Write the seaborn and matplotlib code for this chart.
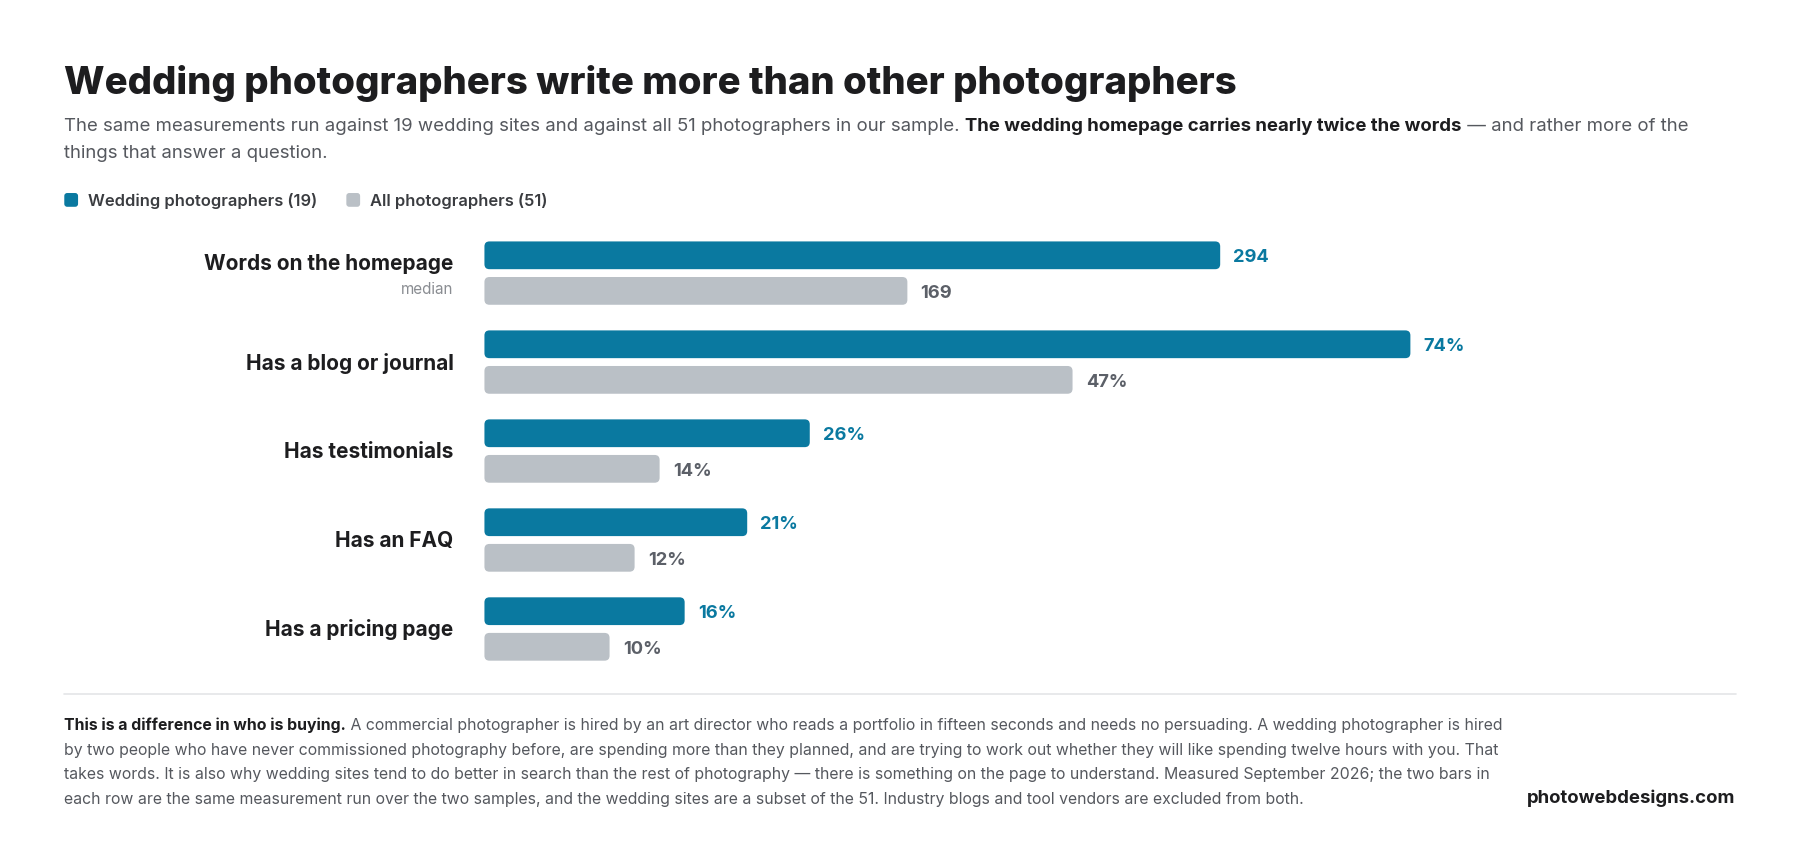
import matplotlib
matplotlib.use("Agg")
import matplotlib.pyplot as plt
from matplotlib.patches import FancyBboxPatch
from matplotlib.lines import Line2D
import seaborn as sns
import pandas as pd

# ---------------- data ----------------
metrics = ["Words on the homepage", "Has a blog or journal", "Has testimonials",
           "Has an FAQ", "Has a pricing page"]
metric_notes = ["median", "", "", "", ""]
wedding_values = [294, 74, 26, 21, 16]
all_values = [169, 47, 14, 12, 10]
value_suffix = ["", "%", "%", "%", "%"]
scale_max = [500, 100, 100, 100, 100]
groups = ["Wedding photographers (19)", "All photographers (51)"]

title = "Wedding photographers write more than other photographers"
subtitle_runs = [
    ("The same measurements run against 19 wedding sites and against all 51 photographers in our sample. ", "normal", "sub"),
    ("The wedding homepage carries nearly twice the words", "bold", "dark"),
    (" \u2014 and rather more of the", "normal", "sub"),
]
subtitle_line2 = "things that answer a question."
footer_lead = "This is a difference in who is buying."
footer_lines = [
    " A commercial photographer is hired by an art director who reads a portfolio in fifteen seconds and needs no persuading. A wedding photographer is hired",
    "by two people who have never commissioned photography before, are spending more than they planned, and are trying to work out whether they will like spending twelve hours with you. That",
    "takes words. It is also why wedding sites tend to do better in search than the rest of photography \u2014 there is something on the page to understand. Measured September 2026; the two bars in",
    "each row are the same measurement run over the two samples, and the wedding sites are a subset of the 51. Industry blogs and tool vendors are excluded from both.",
]
brand = "photowebdesigns.com"

# ---------------- style ----------------
TEAL = "#0a79a0"
GRAY = "#bac0c6"
DARK = "#1d1d1f"
SUB = "#55585e"
VAL_GRAY = "#5c6068"
NOTE = "#8a8d92"
FONT = ["Inter", "DejaVu Sans"]

sns.set_theme(style="white")
plt.rcParams["font.family"] = FONT

W, H = 1568.0, 743.0  # layout reference frame
def fx(x): return x / W
def fy(y): return 1 - y / H

fig = plt.figure(figsize=(18, 8.53), dpi=100)
fig.patch.set_facecolor("white")

# ---------------- bars ----------------
rows = []
for m, wv, av, mx in zip(metrics, wedding_values, all_values, scale_max):
    rows.append({"metric": m, "group": groups[0], "share": wv / mx})
    rows.append({"metric": m, "group": groups[1], "share": av / mx})
df = pd.DataFrame(rows)

ax = fig.add_axes([fx(422), fy(587.5), fx(1512) - fx(422), fy(200) - fy(587.5)])
sns.barplot(data=df, y="metric", x="share", hue="group", order=metrics, hue_order=groups,
            palette=[TEAL, GRAY], orient="h", width=0.8, gap=0.22, legend=False, ax=ax,
            saturation=1, edgecolor="none", linewidth=0)
ax.set_xlim(0, 1)
ax.set_ylim(len(metrics) - 0.5, -0.5)
ax.axis("off")

# rounded corners
fig.canvas.draw()
p0 = ax.transData.transform((0, 0)); p1 = ax.transData.transform((1, 1))
px_per_x = abs(p1[0] - p0[0]); px_per_y = abs(p1[1] - p0[1])
radius_px = 5.0
rx = radius_px / px_per_x
aspect = (radius_px / px_per_y) / rx
old = list(ax.patches)
for p in old:
    x, y, w, h = p.get_x(), p.get_y(), p.get_width(), p.get_height()
    fc = p.get_facecolor()
    p.remove()
    ax.add_patch(FancyBboxPatch((x, y), w, h,
                                boxstyle=f"round,pad=0,rounding_size={rx}",
                                mutation_aspect=aspect, facecolor=fc, edgecolor="none"))

# value labels
bar_h = 0.8 / 2
for i in range(len(metrics)):
    for j, (vals, col) in enumerate([(wedding_values, TEAL), (all_values, VAL_GRAY)]):
        v = vals[i]
        yc = i + (j - 0.5) * bar_h
        ax.annotate(f"{v}{value_suffix[i]}", xy=(v / scale_max[i], yc), xytext=(9.5, -1),
                    textcoords="offset points", va="center", ha="left",
                    fontsize=13.2, fontweight="bold", color=col)

# category labels
lab_tr = matplotlib.transforms.blended_transform_factory(fig.transFigure, ax.transData)
for i, (m, note) in enumerate(zip(metrics, metric_notes)):
    if note:
        ax.annotate(m, xy=(fx(395), i), xycoords=lab_tr, xytext=(0, 7.5),
                    textcoords="offset points", ha="right", va="center",
                    fontsize=15, fontweight="bold", color=DARK)
        ax.annotate(note, xy=(fx(395), i), xycoords=lab_tr, xytext=(0, -11),
                    textcoords="offset points", ha="right", va="center",
                    fontsize=11, color=NOTE)
    else:
        ax.annotate(m, xy=(fx(395), i), xycoords=lab_tr, ha="right", va="center",
                    fontsize=15, fontweight="bold", color=DARK)

# ---------------- texts ----------------
renderer = fig.canvas.get_renderer()
fig_w_px = fig.bbox.width

def runs(x, y, items, size, va="baseline"):
    cur = x
    for text, weight, col in items:
        c = {"sub": SUB, "dark": DARK}.get(col, col)
        t = fig.text(cur, y, text, fontsize=size, fontweight=weight, color=c, va=va, ha="left")
        bb = t.get_window_extent(renderer=renderer)
        cur += bb.width / fig_w_px
    return cur

fig.text(fx(56), fy(82), title, fontsize=27.6, fontweight="heavy", color=DARK, va="baseline")
runs(fx(56), fy(114), subtitle_runs, 13.4)
fig.text(fx(56), fy(138), subtitle_line2, fontsize=13.4, color=SUB, va="baseline")

# legend
ly = fy(175)
sq_w = 12 / W; sq_h = 12 / H
lx = fx(56)
for g, col in zip(groups, [TEAL, GRAY]):
    fig.add_artist(FancyBboxPatch((lx, ly - sq_h / 2), sq_w, sq_h, transform=fig.transFigure,
                                  boxstyle=f"round,pad=0,rounding_size={2.5 / W}",
                                  mutation_aspect=W / H, facecolor=col, edgecolor="none"))
    t = fig.text(lx + 21 / W, ly, g, fontsize=11.9, fontweight="semibold", color="#3a3c40",
                 va="center", ha="left")
    bb = t.get_window_extent(renderer=renderer)
    lx = lx + 21 / W + bb.width / fig_w_px + 25 / W

# separator
fig.add_artist(Line2D([fx(56), fx(1512)], [fy(605), fy(605)], transform=fig.transFigure,
                      color="#e4e5e7", linewidth=1.2))

# footer
FS = 11.4
line_gap = 21.5
y0 = 632
runs(fx(56), fy(y0), [(footer_lead, "bold", "dark"), (footer_lines[0], "normal", "sub")], FS, va="center")
for k, ln in enumerate(footer_lines[1:], start=1):
    fig.text(fx(56), fy(y0 + k * line_gap), ln, fontsize=FS, color=SUB, va="center", ha="left")
fig.text(fx(1512), fy(695), brand, fontsize=13.4, fontweight="bold", color=DARK, ha="right", va="center")

fig.savefig("out.png", dpi=100, facecolor="white")
